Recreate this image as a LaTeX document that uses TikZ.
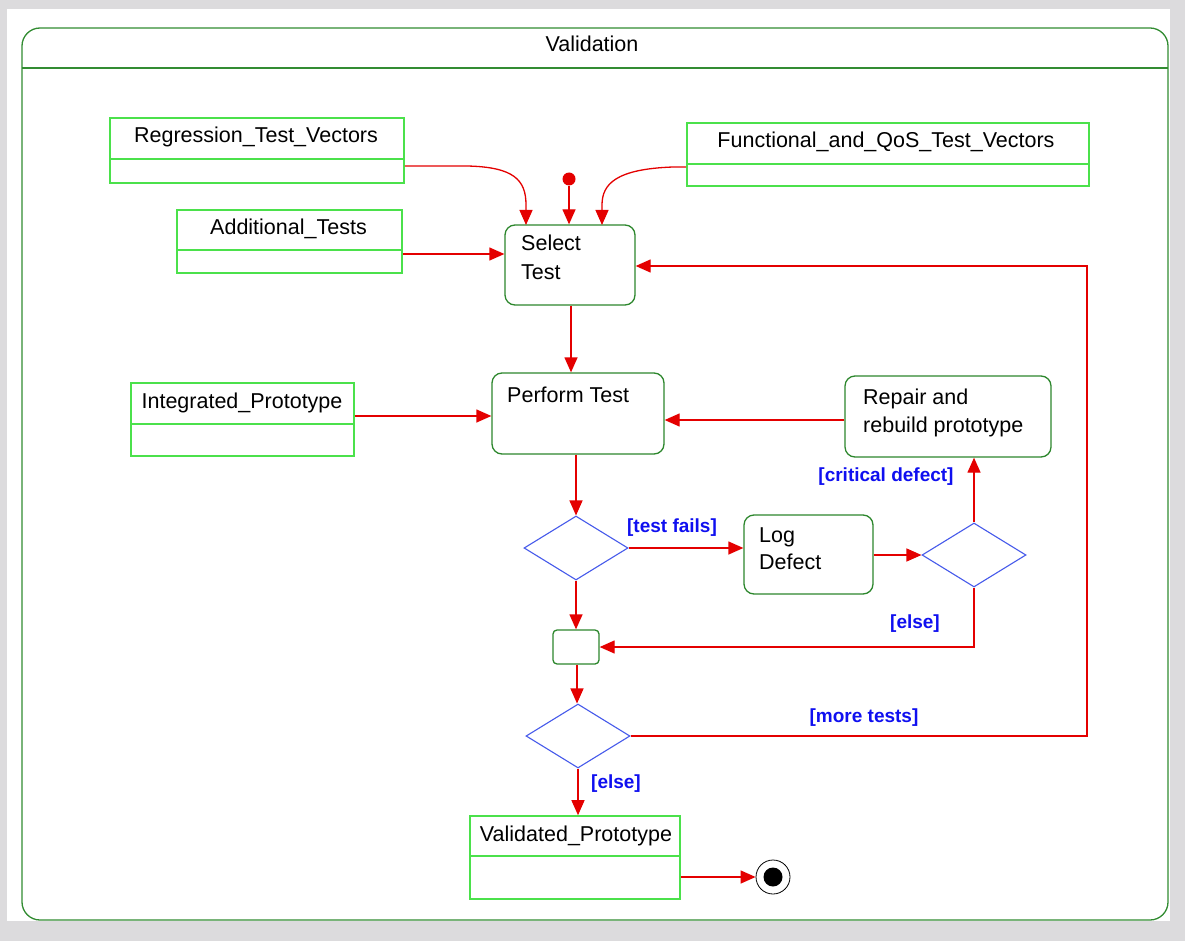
\documentclass[tikz,border=0pt]{standalone}
\usepackage{fontspec}
\setmainfont{Liberation Sans}
\usetikzlibrary{arrows.meta,shapes.geometric}
\definecolor{bggrey}{RGB}{220,219,221}
\definecolor{frameg}{RGB}{50,140,50}
\definecolor{actg}{RGB}{45,135,45}
\definecolor{objg}{RGB}{75,225,75}
\definecolor{flowred}{RGB}{228,0,0}
\definecolor{decblue}{RGB}{70,90,235}
\definecolor{guardblue}{RGB}{15,15,240}
\tikzset{
  lbl/.style={font=\fontsize{21.5}{24}\selectfont, text=black, inner sep=0pt},
  guard/.style={font=\fontsize{19}{22}\selectfont\bfseries, text=guardblue, inner sep=0pt},
  objbox/.style={draw=objg, line width=1.6pt, rectangle, inner sep=0pt},
  actbox/.style={draw=actg, line width=1.3pt, rectangle, rounded corners=10pt, inner sep=0pt},
  decision/.style={draw=decblue, line width=1.1pt, diamond, inner sep=0pt},
  flow/.style={draw=flowred, line width=1.3pt, -{Triangle[length=15pt,width=13pt]}},
}
\begin{document}
\begin{tikzpicture}[x=1pt,y=-1pt]
% canvas
\fill[bggrey] (0,0) rectangle (1185,941);
\fill[white] (7,9) rectangle (1170,921);
\useasboundingbox (0,0) rectangle (1185,941);

% swimlane frame with header
\draw[frameg, line width=1.3pt, rounded corners=18pt] (22,28) rectangle (1168,920);
\draw[frameg, line width=1.3pt] (22,68) -- (1168,68);
\node[lbl, anchor=base] (title) at (592,52) {Validation};

% object nodes (two compartments)
\node[objbox, minimum width=294pt, minimum height=65pt] (reg) at (257,150.5) {};
\draw[objg, line width=1.6pt] (reg.west |- 0,159) -- (reg.east |- 0,159);
\node[lbl, anchor=base] at (256,143) {Regression\_Test\_Vectors};

\node[objbox, minimum width=225pt, minimum height=63pt] (add) at (289.5,241.5) {};
\draw[objg, line width=1.6pt] (add.west |- 0,250) -- (add.east |- 0,250);
\node[lbl, anchor=base] at (288.5,235) {Additional\_Tests};

\node[objbox, minimum width=402pt, minimum height=63pt] (func) at (888,154.5) {};
\draw[objg, line width=1.6pt] (func.west |- 0,164) -- (func.east |- 0,164);
\node[lbl, anchor=base] at (886,148) {Functional\_and\_QoS\_Test\_Vectors};

\node[objbox, minimum width=223pt, minimum height=73pt] (intp) at (242.5,419.5) {};
\draw[objg, line width=1.6pt] (intp.west |- 0,424) -- (intp.east |- 0,424);
\node[lbl, anchor=base] at (242,408) {Integrated\_Prototype};

\node[objbox, minimum width=210pt, minimum height=83pt] (val) at (575,857.5) {};
\draw[objg, line width=1.6pt] (val.west |- 0,856) -- (val.east |- 0,856);
\node[lbl, anchor=base] at (576,841) {Validated\_Prototype};

% activities
\node[actbox, minimum width=130pt, minimum height=80pt] (sel) at (570,265) {};
\node[lbl, anchor=base west] at (521,251) {Select};
\node[lbl, anchor=base west] at (521,279) {Test};

\node[actbox, minimum width=172pt, minimum height=81pt] (perf) at (578,413.5) {};
\node[lbl, anchor=base west] at (507,402) {Perform Test};

\node[actbox, minimum width=206pt, minimum height=81pt] (rep) at (948,416.5) {};
\node[lbl, anchor=base west] at (863,404) {Repair and};
\node[lbl, anchor=base west] at (863,432) {rebuild prototype};

\node[actbox, minimum width=129pt, minimum height=79pt] (logd) at (808.5,554.5) {};
\node[lbl, anchor=base west] at (759,542) {Log};
\node[lbl, anchor=base west] at (759,569) {Defect};

\node[actbox, rounded corners=4pt, minimum width=46pt, minimum height=34pt] (jn) at (576,647) {};

% decisions
\node[decision, minimum width=104pt, minimum height=64pt] (d1) at (576,548) {};
\node[decision, minimum width=104pt, minimum height=64pt] (d3) at (974,555) {};
\node[decision, minimum width=104pt, minimum height=64pt] (d2) at (578,736) {};

% initial and final states
\node[circle, fill=flowred, minimum size=13pt, inner sep=0pt] (init) at (569,179) {};
\node[circle, draw=black, line width=0.8pt, minimum size=34pt, inner sep=0pt] (fin) at (773,877) {};
\node[circle, fill=black, minimum size=19pt, inner sep=0pt] (finin) at (fin) {};

\coordinate (loop) at (1087,266);

% control flow
\draw[flow] (reg.east |- 0,166) -- (467,166) .. controls (514,167) and (526,180) .. (526,205) -- (526,225);
\draw[flow] (init) -- (init |- sel.north);
\draw[flow] (func.west |- 0,167) -- (673,167) .. controls (616,169) and (602,184) .. (602,205) -- (602,225);
\draw[flow] (add.east |- 0,254) -- (sel.west |- 0,254);
\draw[flow] ([xshift=1pt]sel.south) -- ([xshift=1pt]sel.south |- perf.north);
\draw[flow] (intp.east |- 0,416) -- (perf.west |- 0,416);
\draw[flow] (rep.west |- 0,420) -- (perf.east |- 0,420);
\draw[flow] (d1.north |- perf.south) -- (d1.north);
\draw[flow] (d1.east) -- (logd.west |- d1.east);
\draw[flow] (logd.east |- d3.west) -- (d3.west);
\draw[flow] (d3.north) -- (d3.north |- rep.south);
\draw[flow] (d3.south) |- (jn.east);
\draw[flow] (d1.south) -- (d1.south |- jn.north);
\draw[flow] ([xshift=1pt]jn.south) -- ([xshift=1pt]jn.south |- d2.north);
\draw[flow] (d2.east) -| (loop) -- (sel.east |- loop);
\draw[flow] (d2.south) -- (d2.south |- val.north);
\draw[flow] (val.east |- fin.west) -- (fin.west);

% guards
\node[guard] at (672,528) {[test fails]};
\node[guard] at (886,477) {[critical defect]};
\node[guard] at (915,624) {[else]};
\node[guard] at (864,718) {[more tests]};
\node[guard] at (616,784) {[else]};
\end{tikzpicture}
\end{document}
